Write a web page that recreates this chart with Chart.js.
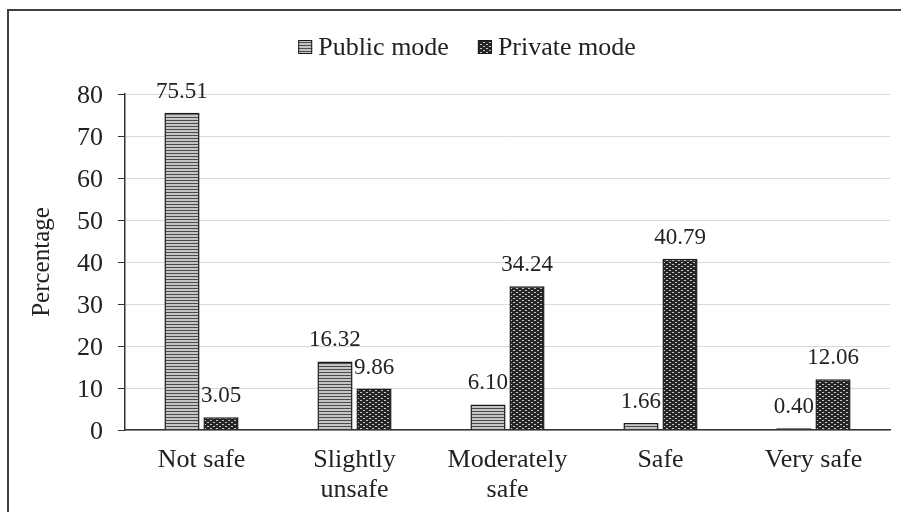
<!DOCTYPE html>
<html>
<head>
<meta charset="utf-8">
<script src="https://cdn.jsdelivr.net/npm/chart.js@4"></script>
<style>
  html, body { margin: 0; padding: 0; background: #fff; }
  #wrap { width: 901px; height: 512px; }
</style>
</head>
<body>
<div id="wrap"><canvas id="chart"></canvas></div>
<script>
// data
const categories = ['Not safe', ['Slightly', 'unsafe'], ['Moderately', 'safe'], 'Safe', 'Very safe'];
const publicMode = [75.51, 16.32, 6.10, 1.66, 0.40];
const privateMode = [3.05, 9.86, 34.24, 40.79, 12.06];
const seriesNames = ['Public mode', 'Private mode'];
const yTicks = [0, 10, 20, 30, 40, 50, 60, 70, 80];
const yTitle = 'Percentage';

const SERIF = "'Liberation Serif', 'Times New Roman', serif";
const INK = '#222';

// hatch fills like the Excel pattern fills
function stripePattern() {
    const c = document.createElement('canvas');
    c.width = 4; c.height = 3;
    const g = c.getContext('2d');
    g.fillStyle = '#c4c4c4';
    g.fillRect(0, 0, 4, 3);
    g.fillStyle = '#4d4d4d';
    g.fillRect(0, 0, 4, 1);
    return g.createPattern(c, 'repeat');
}

function dotPattern() {
    const c = document.createElement('canvas');
    c.width = 6; c.height = 4;
    const g = c.getContext('2d');
    g.fillStyle = '#262626';
    g.fillRect(0, 0, 6, 4);
    g.fillStyle = '#c8c8c8';
    g.fillRect(0, 0, 2, 1);
    g.fillRect(3, 2, 2, 1);
    return g.createPattern(c, 'repeat');
}

const fills = [stripePattern(), dotPattern()];

function text(ctx, str, x, y, align, rot) {
    ctx.save();
    ctx.translate(x, y);
    if (rot) ctx.rotate(rot);
    ctx.textAlign = align;
    ctx.fillText(str, 0, 0);
    ctx.restore();
}

// frame, legend, axis labels, value labels
const decor = {
    id: 'decor',
    beforeDraw(chart) {
        const ctx = chart.ctx;
        ctx.save();
        ctx.strokeStyle = '#404040';
        ctx.lineWidth = 2;
        ctx.beginPath();
        ctx.moveTo(8, 512);
        ctx.lineTo(8, 10);
        ctx.lineTo(901, 10);
        ctx.stroke();
        ctx.restore();
    },
    afterDraw(chart) {
        const ctx = chart.ctx;
        const { x: xs, y: ys } = chart.scales;
        ctx.save();
        ctx.fillStyle = INK;
        ctx.textBaseline = 'alphabetic';

        // legend
        ctx.font = '26px ' + SERIF;
        const box = 14, gapText = 6, gapItem = 29;
        const widths = chart.data.datasets.map(d => ctx.measureText(d.label).width);
        const total = widths.reduce((a, w) => a + box + gapText + w, 0) + gapItem * (widths.length - 1);
        let x = 467 - total / 2;
        const cy = 47;
        chart.data.datasets.forEach((d, i) => {
            ctx.fillStyle = d.backgroundColor;
            ctx.fillRect(x, cy - box / 2, box, box);
            ctx.strokeStyle = '#1a1a1a';
            ctx.lineWidth = 1;
            ctx.strokeRect(x + 0.5, cy - box / 2 + 0.5, box - 1, box - 1);
            ctx.fillStyle = INK;
            text(ctx, d.label, x + box + gapText, cy + 8, 'left');
            x += box + gapText + widths[i] + gapItem;
        });

        // y tick labels
        ys.ticks.forEach(t => {
            text(ctx, String(t.value), ys.right - 22, ys.getPixelForValue(t.value) + 9, 'right');
        });

        // x category labels
        chart.data.labels.forEach((lab, i) => {
            const lines = Array.isArray(lab) ? lab : [lab];
            const px = xs.getPixelForTick(i);
            lines.forEach((ln, k) => text(ctx, ln, px, xs.top + 37 + k * 30, 'center'));
        });

        // y title
        ctx.font = '25px ' + SERIF;
        text(ctx, yTitle, 49, (ys.top + ys.bottom) / 2, 'center', -Math.PI / 2);

        // values above bars
        ctx.font = '23px ' + SERIF;
        chart.data.datasets.forEach((d, i) => {
            chart.getDatasetMeta(i).data.forEach((bar, j) => {
                text(ctx, d.data[j].toFixed(2), bar.x, bar.y - 15, 'center');
            });
        });
        ctx.restore();
    }
};

new Chart(document.getElementById('chart'), {
    type: 'bar',
    data: {
        labels: categories,
        datasets: [
            { label: seriesNames[0], data: publicMode, backgroundColor: fills[0] },
            { label: seriesNames[1], data: privateMode, backgroundColor: fills[1] }
        ]
    },
    options: {
        responsive: true,
        maintainAspectRatio: false,
        animation: false,
        devicePixelRatio: 1,
        layout: { padding: { top: 94, right: 11, left: 0, bottom: 0 } },
        datasets: {
            bar: {
                categoryPercentage: 0.51,
                barPercentage: 0.9,
                borderColor: '#1a1a1a',
                borderWidth: 1.5
            }
        },
        plugins: {
            legend: { display: false },
            tooltip: { enabled: false }
        },
        scales: {
            x: {
                grid: { display: false, drawTicks: false },
                border: { color: '#333', width: 1.5 },
                ticks: { display: false, autoSkip: false },
                afterFit(scale) { scale.height = 82; }
            },
            y: {
                min: 0,
                max: 80,
                afterBuildTicks(scale) { scale.ticks = yTicks.map(v => ({ value: v })); },
                grid: { color: '#d9d9d9', lineWidth: 1, tickLength: 7, tickColor: '#333' },
                border: { color: '#333', width: 1.5 },
                ticks: { display: false },
                afterFit(scale) { scale.width = 125; }
            }
        }
    },
    plugins: [decor]
});
</script>
</body>
</html>
